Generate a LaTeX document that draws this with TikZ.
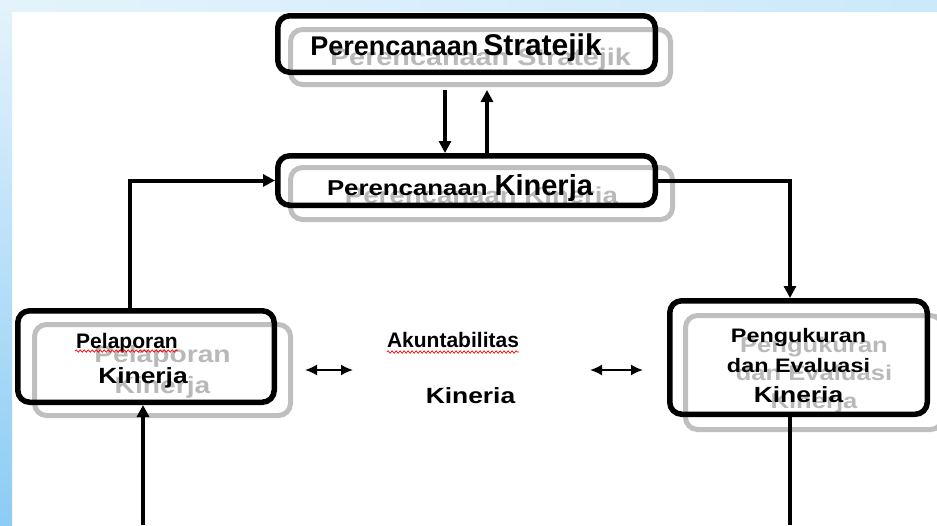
\documentclass[tikz,border=0pt]{standalone}
\usepackage{fontspec}
\setmainfont{Liberation Sans}
\newfontfamily\widefont[FakeStretch=1.2]{Liberation Sans}
\usetikzlibrary{arrows.meta,decorations.pathmorphing}
\definecolor{slidepale}{RGB}{228,243,251}
\definecolor{slideblue}{RGB}{140,204,245}
\definecolor{slideband}{RGB}{203,233,251}
\newcommand{\fsz}[2]{\fontsize{#1}{#2}\selectfont}
\tikzset{
  box/.style={draw, line width=5.5pt, rounded corners=12pt, inner sep=0pt,
    align=center, text depth=0pt},
  ghost/.style={box, draw=gray!50, line width=5pt, text=gray!55},
  lbl/.style={inner sep=0pt},
  link/.style={line width=4pt, -{Triangle[length=12pt,width=12pt]}},
  twoway/.style={line width=1.8pt,
    {Latex[length=12pt,width=11pt]}-{Latex[length=12pt,width=11pt]}},
  spell/.style={red, line width=0.7pt, decorate,
    decoration={snake, amplitude=1.2pt, segment length=4pt}},
}
\begin{document}
\begin{tikzpicture}[x=1pt,y=-1pt]
  \useasboundingbox (0,0) rectangle (937,525);
  \clip (0,0) rectangle (937,525);
  % slide background:
  \fill[white] (0,0) rectangle (937,525);
  \shade[top color=slidepale, bottom color=slideblue] (0,0) rectangle (12,525);
  \shade[left color=slidepale, right color=slideband] (0,0) rectangle (937,11);
  % shadows of the boxes:
  \node[ghost, minimum width=380pt, minimum height=55pt, text height=16pt,
    font=\bfseries\widefont\fsz{24}{28}] (stratS) at (480.5,57) {Perencanaan Stratejik};
  \node[ghost, minimum width=382pt, minimum height=52pt, text height=19pt,
    font=\bfseries\widefont\fsz{23}{27}] (kinS) at (481.5,193.5) {Perencanaan Kinerja};
  \node[ghost, minimum width=256pt, minimum height=91pt, text height=46pt,
    font=\bfseries\widefont\fsz{23.5}{31}] (laporS) at (162.5,370) {Pelaporan\\Kinerja};
  \node[ghost, minimum width=257pt, minimum height=114pt, text height=71pt,
    font=\bfseries\widefont\fsz{21.3}{28}] (ukurS) at (814,372.5) {Pengukuran\\dan Evaluasi\\Kinerja};
  % boxes:
  \node[box, minimum width=377.5pt, minimum height=56.5pt, text height=22pt,
    font=\bfseries\fsz{27}{30}] (strat) at (466.5,44)
    {Perencanaan\hspace{5pt}\fsz{30}{34}Stratejik\hspace*{21pt}};
  \node[box, minimum width=377.5pt, minimum height=49.5pt, text height=29pt,
    font=\bfseries\fsz{29}{33}] (kin) at (466.5,180.5)
    {{\widefont\fsz{21.5}{30}Perencanaan}\hspace{7pt}Kinerja\hspace*{13pt}};
  \node[box, minimum width=256.5pt, minimum height=91.5pt, text height=53pt,
    font=\bfseries\fsz{21}{35}] (lapor) at (146,356.5)
    {Pelaporan\hspace*{38pt}\\\widefont\fsz{22}{35}Kinerja\hspace*{6pt}};
  \node[box, minimum width=257.5pt, minimum height=113.5pt, text height=89pt,
    font=\bfseries\widefont\fsz{19.5}{30}] (ukur) at (798.5,357.5)
    {Pengukuran\\dan Evaluasi\\\fsz{22}{32}Kineria};
  % middle texts:
  \node[lbl, anchor=base, font=\bfseries\fsz{21}{25}] (akun) at (453,347) {Akuntabilitas};
  \node[lbl, anchor=base, font=\bfseries\widefont\fsz{22}{26}] (kinmid) at (470.5,403) {Kineria};
  \draw[spell] ([yshift=-5pt]akun.base west) -- ([yshift=-5pt]akun.base east);
  \draw[spell] ([shift={(-71,-5.5)}]lapor.center) -- ++(103,0);
  % connectors:
  \draw[link, shorten <=3pt] ([xshift=-21.5pt]strat.south |- stratS.south) -- ([xshift=-21.5pt]kin.north);
  \draw[link, shorten >=3pt] ([xshift=20.5pt]kin.north) -- ([xshift=20.5pt]kin.north |- stratS.south);
  \draw[link] ([xshift=-16pt]lapor.north) |- (kin.west);
  \draw[link] (kin.east) -| ([xshift=-8.5pt]ukur.north);
  \coordinate (inL) at (143,525);
  \coordinate (outR) at (790,525);
  \draw[link] (inL) -- (inL |- lapor.south);
  \draw[line width=4pt] (ukur.south -| outR) -- (outR);
  % two-way arrows:
  \coordinate (dL1) at (305,370);
  \coordinate (dL2) at (353,370);
  \coordinate (dR1) at (590,370);
  \coordinate (dR2) at (643,370);
  \draw[twoway] (dL1) -- (dL2);
  \draw[twoway] (dR1) -- (dR2);
\end{tikzpicture}
\end{document}
